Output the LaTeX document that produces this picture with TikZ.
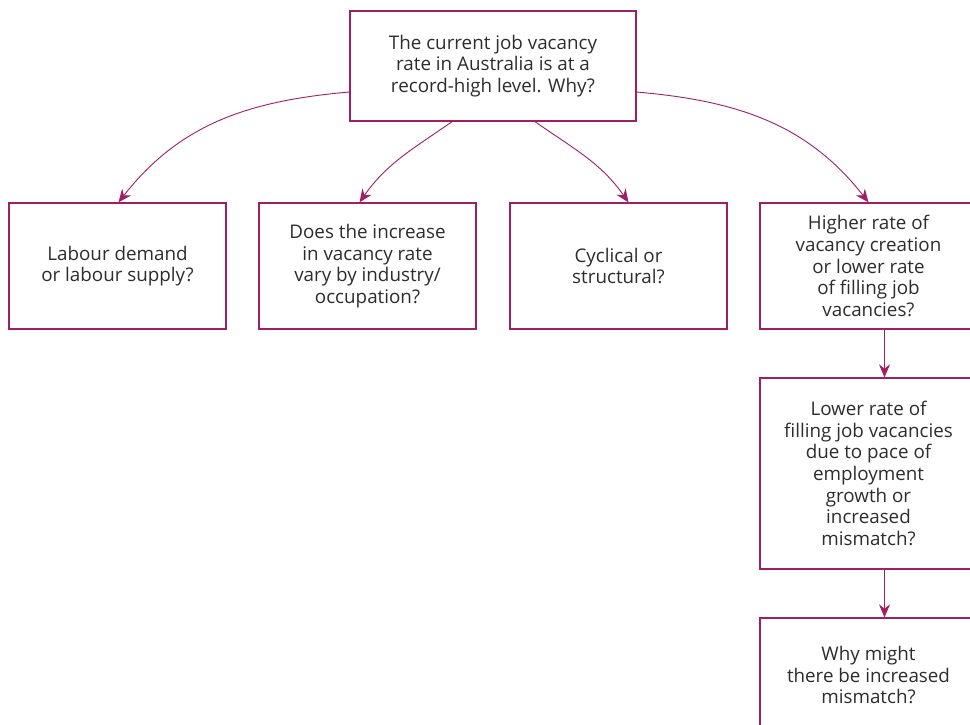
\documentclass[tikz,border=0pt]{standalone}
\usepackage{fontspec}
\setmainfont{Open Sans}
\usepackage{tikz}
\usetikzlibrary{arrows.meta, positioning}

\definecolor{plum}{RGB}{160,30,100}
\definecolor{inkgray}{RGB}{45,45,45}

\tikzset{
  qbox/.style={draw=plum, line width=1.3pt, fill=white, text=inkgray,
    align=center, inner sep=0pt, font=\fontsize{18.8}{21.7}\selectfont},
  flow/.style={draw=plum, line width=0.9pt, -{Stealth[length=13pt,width=11pt]}}
}

\begin{document}
\begin{tikzpicture}[x=1pt, y=-1pt]
\useasboundingbox (0,0) rectangle (970,724);

% question at the top
\node[qbox, minimum width=286pt, minimum height=110pt] (top) at (493,66)
  {The current job vacancy\\rate in Australia is at a\\record-high level. Why?};

% first row
\node[qbox, minimum width=217pt, minimum height=126pt] (demand) at (117.5,266)
  {Labour demand\\or labour supply?};
\node[qbox, minimum width=217pt, minimum height=126pt] (industry) at (367.5,266)
  {Does the increase\\in vacancy rate\\vary by industry/\\occupation?};
\node[qbox, minimum width=217pt, minimum height=126pt] (cycle) at (618.5,266)
  {Cyclical or\\structural?};
\node[qbox, minimum width=217pt, minimum height=126pt] (rate) at (868.5,266)
  {Higher rate of\\vacancy creation\\or lower rate\\of filling job\\vacancies?};

% right column
\node[qbox, minimum width=217pt, minimum height=191pt] (filling) at (868.5,473.5)
  {Lower rate of\\filling job vacancies\\due to pace of\\employment\\growth or\\increased\\mismatch?};
\node[qbox, minimum width=217pt, minimum height=114pt] (mismatch) at (868.5,675)
  {Why might\\there be increased\\mismatch?};

% connectors
\draw[flow] ([yshift=-26pt]top.west) to[out=185, in=52] ([xshift=1pt]demand.north);
\draw[flow] ([xshift=-41pt]top.south) to[out=215, in=55] ([xshift=-8pt]industry.north);
\draw[flow] ([xshift=42pt]top.south) to[out=-35, in=125] ([xshift=10pt]cycle.north);
\draw[flow] ([yshift=-26pt]top.east) to[out=-5, in=128] (rate.north);
\draw[flow] ([xshift=16pt]rate.south) -- ([xshift=16pt]filling.north);
\draw[flow] ([xshift=16pt]filling.south) -- ([xshift=16pt]mismatch.north);
\end{tikzpicture}
\end{document}
